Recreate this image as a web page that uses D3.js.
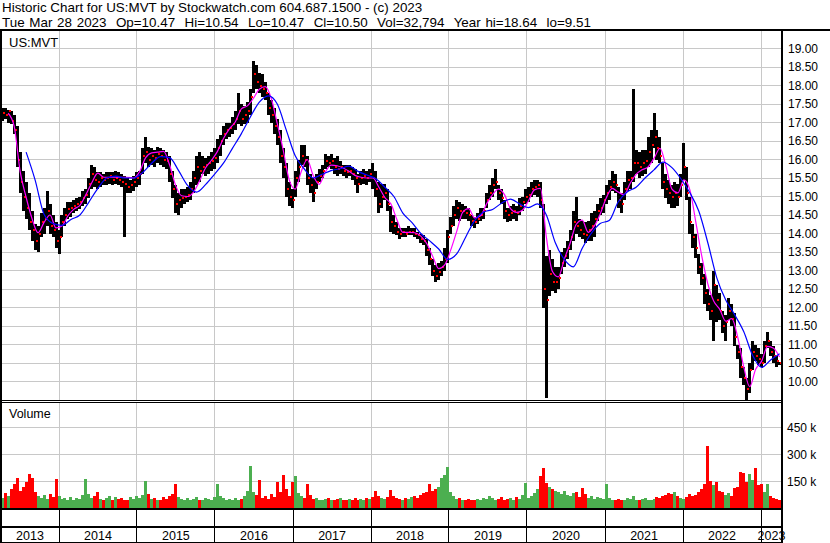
<!DOCTYPE html>
<html><head><meta charset="utf-8">
<script src="https://cdn.jsdelivr.net/npm/d3@7"></script>
<style>
html,body{margin:0;padding:0;background:#fff;}
svg{display:block;font-family:"Liberation Sans",Arial,sans-serif;}
text{white-space:pre;}
</style></head><body>
<svg id="c" width="830" height="543"></svg>
<script>
// ---------------- data ----------------
const title1 = "Historic Chart for US:MVT by Stockwatch.com 604.687.1500 - (c) 2023";
const title2 = "Tue Mar 28 2023  Op=10.47  Hi=10.54  Lo=10.47  Cl=10.50  Vol=32,794  Year hi=18.64  lo=9.51";
const symbolLabel = "US:MVT";
const volumeLabel = "Volume";
const years = [2013,2014,2015,2016,2017,2018,2019,2020,2021,2022,2023];
const priceTicks = [19.00,18.50,18.00,17.50,17.00,16.50,16.00,15.50,15.00,14.50,14.00,13.50,13.00,12.50,12.00,11.50,11.00,10.50,10.00];
const volumeTicks = [150,300,450];           // thousands
const volumeTickLabels = ["150 k","300 k","450 k"];
const firstBarDate = "2013-04-10";
const barStepDays = 14;                       // one bar per two weeks

const highs = [
17.40,17.38,17.35,17.30,17.20,16.90,16.20,15.70,15.40,15.10,
14.60,14.25,14.20,14.55,14.70,15.15,14.80,14.50,14.30,14.10,
14.50,14.70,14.85,14.85,14.90,14.95,15.00,15.15,15.20,15.50,
15.85,15.80,15.65,15.65,15.60,15.65,15.65,15.65,15.70,15.65,
15.60,15.55,15.50,15.45,15.55,15.65,15.70,16.30,16.60,16.35,
16.30,16.25,16.35,16.30,16.25,16.20,16.10,15.70,15.30,15.10,
15.20,15.20,15.25,15.40,15.70,16.10,16.20,16.10,16.05,16.10,
16.20,16.30,16.55,16.65,16.90,17.00,17.00,17.15,17.30,17.80,
17.50,17.45,17.55,17.90,18.66,18.55,18.35,18.30,18.10,17.80,
17.60,17.40,17.10,16.80,16.30,15.90,15.40,15.20,15.70,16.00,
16.40,16.40,16.10,15.60,15.50,15.60,15.75,15.85,16.15,16.10,
16.15,16.05,16.10,15.95,15.85,15.85,15.85,15.80,15.75,15.60,
15.70,15.75,15.70,15.75,15.90,15.70,15.40,15.35,15.35,15.20,
14.75,14.50,14.30,14.15,14.15,14.15,14.20,14.15,14.15,14.05,
14.00,13.95,13.85,13.60,13.30,13.15,13.20,13.25,13.60,14.10,
14.45,14.75,14.90,14.85,14.80,14.75,14.70,14.50,14.45,14.55,
14.70,14.70,15.10,15.30,15.50,15.75,15.30,15.20,14.90,14.70,
14.75,14.80,14.75,14.95,15.00,15.20,15.25,15.40,15.45,15.45,
15.40,14.80,13.40,13.55,13.30,13.10,13.10,13.50,13.60,13.80,
14.10,14.60,15.00,14.40,14.35,14.30,14.35,14.55,14.60,14.80,
14.95,15.05,15.30,15.45,15.70,15.60,15.25,15.10,15.40,15.70,
15.70,17.90,16.25,16.20,16.25,16.25,16.60,16.80,17.25,16.80,
16.60,15.90,15.60,15.45,15.30,15.40,15.35,15.60,16.45,15.80,
15.00,14.25,14.00,13.45,13.20,12.90,12.50,12.35,13.00,12.60,
12.40,11.90,11.80,12.25,12.10,11.85,11.00,10.90,10.40,10.10,
10.50,11.10,11.00,10.90,10.75,11.10,11.35,11.10,10.95,10.70,
10.54];

const lows = [
17.05,17.10,17.00,16.95,16.70,15.80,15.10,14.60,14.40,14.10,
13.80,13.55,13.50,13.90,14.00,14.20,14.00,13.90,13.60,13.45,
13.90,14.20,14.40,14.45,14.55,14.60,14.65,14.75,14.80,14.95,
15.20,15.25,15.20,15.25,15.30,15.30,15.35,15.30,15.35,15.30,
15.25,13.90,15.10,15.10,15.15,15.25,15.30,15.60,15.90,15.80,
15.85,15.80,15.90,15.85,15.80,15.75,15.40,14.95,14.55,14.50,
14.70,14.80,14.85,14.90,15.10,15.30,15.40,15.60,15.55,15.60,
15.70,15.75,15.90,16.10,16.40,16.55,16.60,16.70,16.80,16.95,
16.90,16.95,17.00,17.20,17.80,17.90,17.80,17.70,17.60,17.20,
17.00,16.70,16.40,15.90,15.50,15.00,14.75,14.70,15.00,15.40,
15.85,15.80,15.30,15.10,14.85,15.20,15.40,15.50,15.75,15.80,
15.75,15.60,15.55,15.60,15.55,15.50,15.55,15.45,15.30,15.10,
15.30,15.35,15.30,15.40,15.20,15.00,14.55,14.70,14.90,14.60,
14.05,14.00,13.95,13.85,13.90,13.90,13.95,13.95,13.90,13.85,
13.75,13.70,13.40,13.15,12.85,12.70,12.75,12.85,13.00,13.20,
14.00,14.20,14.40,14.35,14.40,14.40,14.35,14.20,14.15,14.25,
14.35,14.40,14.70,14.90,15.00,15.20,14.90,14.80,14.40,14.30,
14.35,14.40,14.35,14.50,14.60,14.80,14.85,15.00,15.05,15.00,
14.70,12.00,9.55,12.30,12.45,12.40,12.50,12.90,13.10,13.30,
13.55,13.80,14.00,13.90,13.85,13.75,13.80,13.80,13.90,14.35,
14.50,14.55,14.80,14.90,15.15,15.10,14.70,14.55,14.90,15.15,
15.20,15.40,15.60,15.50,15.55,15.60,15.80,15.90,16.30,16.00,
15.90,15.20,14.95,14.80,14.70,14.70,14.75,15.00,15.45,14.90,
14.00,13.60,13.35,12.90,12.60,12.10,11.90,11.65,11.10,11.60,
11.65,11.30,11.10,11.65,11.50,10.95,10.60,10.10,9.90,9.51,
9.70,10.30,10.55,10.45,10.40,10.50,10.90,10.70,10.50,10.40,
10.45];

const closes = [
17.25,17.20,17.30,17.05,16.80,16.00,15.40,15.00,14.70,14.30,
14.10,13.80,14.00,14.30,14.40,14.60,14.20,14.10,13.80,13.90,
14.30,14.50,14.65,14.70,14.75,14.80,14.85,14.95,15.05,15.35,
15.60,15.45,15.40,15.50,15.45,15.50,15.55,15.45,15.50,15.45,
15.40,15.35,15.25,15.30,15.40,15.50,15.60,16.10,16.20,16.00,
16.10,16.05,16.15,16.10,16.00,15.95,15.60,15.20,14.80,14.90,
14.95,15.00,15.05,15.20,15.50,15.80,15.70,15.80,15.85,15.90,
15.95,16.05,16.30,16.50,16.70,16.80,16.85,16.95,17.10,17.30,
17.10,17.20,17.30,17.70,18.30,18.10,18.00,17.90,17.80,17.40,
17.20,16.90,16.60,16.10,15.80,15.20,15.00,14.90,15.50,15.80,
16.10,16.00,15.50,15.30,15.10,15.40,15.55,15.70,15.95,15.90,
15.95,15.80,15.75,15.80,15.70,15.65,15.70,15.60,15.50,15.35,
15.50,15.55,15.50,15.60,15.50,15.20,14.80,15.00,15.10,14.80,
14.30,14.20,14.05,14.00,14.05,14.00,14.05,14.05,14.00,13.95,
13.85,13.80,13.55,13.30,13.00,12.85,12.95,13.10,13.30,13.90,
14.20,14.50,14.70,14.60,14.60,14.55,14.50,14.35,14.30,14.40,
14.50,14.60,14.90,15.10,15.30,15.40,15.10,14.95,14.60,14.50,
14.55,14.60,14.55,14.75,14.85,15.00,15.05,15.20,15.25,15.30,
14.90,12.50,12.20,12.90,12.70,12.70,12.80,13.20,13.40,13.60,
13.90,14.30,14.20,14.10,14.00,13.95,14.10,14.20,14.40,14.60,
14.70,14.90,15.10,15.25,15.40,15.30,14.90,14.80,15.20,15.45,
15.50,15.90,15.90,15.80,15.90,15.95,16.20,16.40,16.60,16.30,
16.10,15.40,15.20,15.10,15.00,15.10,15.00,15.30,15.80,15.10,
14.30,13.90,13.60,13.10,12.80,12.40,12.10,11.90,12.60,12.20,
11.90,11.50,11.60,11.90,11.70,11.20,10.80,10.40,10.10,9.80,
10.30,10.80,10.70,10.60,10.50,10.95,11.10,10.80,10.70,10.55,
10.50];

const volumes = [   // thousands of shares
60,85,70,110,138,169,95,120,150,191,
169,90,70,60,75,55,80,65,163,70,
55,60,45,65,50,60,55,75,163,80,
60,70,90,55,45,60,70,50,65,55,
60,45,50,65,55,70,60,75,152,80,
55,60,45,50,65,55,70,80,135,65,
55,50,60,45,55,65,50,45,60,55,
50,65,135,70,60,50,55,45,60,50,
55,70,95,236,90,75,158,60,70,55,
80,65,146,90,186,110,70,146,180,85,
70,60,135,75,55,60,50,45,55,60,
50,45,55,60,50,45,55,50,60,45,
55,50,60,55,65,100,70,60,55,65,
106,70,60,55,50,60,55,65,70,60,
75,85,90,135,95,110,120,169,186,230,
90,70,55,60,50,45,55,50,45,55,
50,60,55,70,60,50,55,65,45,55,
60,50,65,55,75,140,60,70,85,110,
180,225,140,120,110,95,90,80,100,75,
70,85,90,65,117,80,60,70,55,65,
60,55,135,60,50,45,55,50,45,60,
55,70,50,45,55,60,50,45,55,65,
60,70,75,85,80,90,70,60,55,65,
80,70,75,90,110,135,349,155,130,146,
100,90,75,85,70,113,120,203,197,150,
192,160,225,130,135,90,135,70,60,55,
45];

// short moving average (magenta), one value every 2 bars starting at bar 2
const maFast = [
17.25,16.90,15.68,14.98,14.40,14.02,14.30,14.50,14.15,14.20,
14.48,14.66,14.76,15.05,15.38,15.63,15.52,15.52,15.52,15.52,
15.52,15.50,15.68,16.05,16.18,16.20,16.22,15.85,15.30,15.02,
15.00,15.12,15.42,15.77,15.98,16.22,16.57,16.83,17.02,17.37,
17.45,17.65,17.90,17.97,17.65,16.97,16.25,15.45,15.20,15.67,
16.00,15.57,15.33,15.65,15.85,15.83,15.77,15.68,15.57,15.52,
15.50,15.50,15.25,14.97,14.80,14.38,14.03,14.03,14.02,13.93,
13.73,13.38,13.05,13.15,13.55,14.05,14.57,14.67,14.42,14.48,
14.80,15.05,15.20,15.05,14.67,14.57,14.63,14.88,15.18,15.22,
13.90,12.98,12.83,13.30,13.75,14.25,14.36,14.03,14.20,14.53,
14.95,15.22,15.12,15.05,15.35,15.60,15.72,15.80,16.03,16.30,
15.82,15.20,15.10,15.45,15.18,14.30,13.38,12.64,12.17,11.95,
11.63,11.70,11.20,10.40,9.86,10.33,10.55,10.95,10.90,10.66];
const maFastFirstBar = 2, maFastEveryBars = 2;

// long moving average (blue), one value every 3 bars starting at bar 8
const maSlow = [
16.20,15.45,14.52,14.27,14.22,14.38,14.50,14.85,15.22,15.50,
15.55,15.50,15.50,15.65,15.90,16.08,16.05,15.70,15.30,15.12,
15.32,15.60,15.90,16.30,16.70,17.15,17.55,17.72,17.50,16.80,
16.10,15.75,15.50,15.60,15.70,15.75,15.82,15.68,15.58,15.48,
15.25,15.00,14.55,14.30,14.00,13.80,13.58,13.30,13.45,13.90,
14.35,14.58,14.65,14.82,14.93,14.80,14.70,14.80,14.50,13.75,
13.30,13.10,13.60,14.00,14.27,14.35,14.85,15.12,15.25,15.50,
15.72,15.93,15.78,15.48,15.10,14.60,13.75,12.80,12.20,11.80,
11.35,10.70,10.38,10.58,10.75];
const maSlowFirstBar = 8, maSlowEveryBars = 3;

// ---------------- layout ----------------
const W = 830, H = 543;
const L = 1, R = 782;
const priceTop = 30, priceBottom = 400;
const volTop = 402, volBottom = 508.5;
const axisRowTop = 509;

const parse = d3.timeParse("%Y-%m-%d");
const start = parse(firstBarDate);
const barDate = i => d3.timeDay.offset(start, barStepDays * i);

const bars = highs.map((h, i) => ({
  date: barDate(i), high: h, low: lows[i], close: closes[i], vol: volumes[i],
  up: i === 0 ? true : closes[i] >= closes[i - 1]
}));
const fastPts = maFast.map((v, k) => ({date: barDate(maFastFirstBar + maFastEveryBars * k), v}));
const slowPts = maSlow.map((v, k) => ({date: barDate(maSlowFirstBar + maSlowEveryBars * k), v}));

const x = d3.scaleTime().domain([new Date(2014, 0, 1), new Date(2023, 0, 1)]).range([59, 761]);
const yP = d3.scaleLinear().domain([9.5, 19.5]).range([priceBottom, priceTop]);
const yV = d3.scaleLinear().domain([0, 595]).range([volBottom, volTop]);

const svg = d3.select("#c");
svg.append("rect").attr("width", W).attr("height", H).attr("fill", "#fff");

const grid = svg.append("g").attr("stroke", "#c8c8c8").attr("stroke-width", 1).attr("shape-rendering", "crispEdges");
const yearStarts = years.slice(1).map(y => new Date(y, 0, 1));

// price gridlines
grid.append("g").selectAll("line").data(priceTicks).join("line")
  .attr("x1", L).attr("x2", R).attr("y1", d => yP(d)).attr("y2", d => yP(d));
grid.append("g").selectAll("line").data(yearStarts).join("line")
  .attr("x1", d => x(d)).attr("x2", d => x(d)).attr("y1", priceTop).attr("y2", priceBottom);
// volume gridlines
grid.append("g").selectAll("line").data(volumeTicks).join("line")
  .attr("x1", L).attr("x2", R).attr("y1", d => yV(d)).attr("y2", d => yV(d));
grid.append("g").selectAll("line").data(yearStarts).join("line")
  .attr("x1", d => x(d)).attr("x2", d => x(d)).attr("y1", volTop).attr("y2", volBottom);

// labels inside panels
svg.append("text").attr("x", 9).attr("y", 46.5).attr("font-size", 13).attr("fill", "#000").text(symbolLabel);
svg.append("text").attr("x", 9).attr("y", 418).attr("font-size", 12.5).attr("fill", "#000").text(volumeLabel);

// volume bars
const bw = 3;
svg.append("g").attr("shape-rendering", "crispEdges")
  .selectAll("rect").data(bars).join("rect")
  .attr("x", d => x(d.date) - bw / 2).attr("width", bw)
  .attr("y", d => yV(d.vol)).attr("height", d => volBottom - yV(d.vol))
  .attr("fill", d => d.up ? "#4caf50" : "#ff0000");

// price bars (high-low) with red close marks
const pg = svg.append("g").attr("shape-rendering", "crispEdges");
pg.append("g").selectAll("rect").data(bars).join("rect")
  .attr("x", d => x(d.date) - bw / 2).attr("width", bw)
  .attr("y", d => yP(d.high)).attr("height", d => Math.max(1, yP(d.low) - yP(d.high)))
  .attr("fill", "#000");
pg.append("g").selectAll("rect").data(bars).join("rect")
  .attr("x", d => x(d.date) + 0.5).attr("width", 2)
  .attr("y", d => yP(d.close) - 1).attr("height", 2)
  .attr("fill", "#ff0000");

// moving averages
const line = d3.line().x(d => x(d.date)).y(d => yP(d.v)).curve(d3.curveMonotoneX);
svg.append("path").datum(fastPts).attr("d", line).attr("fill", "none")
  .attr("stroke", "#ff00ff").attr("stroke-width", 1.2);
svg.append("path").datum(slowPts).attr("d", line).attr("fill", "none")
  .attr("stroke", "#0000ff").attr("stroke-width", 1.2);

// right axis labels
svg.append("g").selectAll("text").data(priceTicks).join("text")
  .attr("x", 788).attr("y", d => yP(d)).attr("dy", "0.36em")
  .attr("font-size", 12).attr("fill", "#000").text(d => d.toFixed(2));
svg.append("g").selectAll("text").data(volumeTicks).join("text")
  .attr("x", 787).attr("y", d => yV(d)).attr("dy", "0.36em")
  .attr("font-size", 12).attr("fill", "#000").text((d, i) => volumeTickLabels[i]);

// bottom date axis rows
const cells = years.map(y => {
  const a = Math.max(L, x(new Date(y, 0, 1)));
  const b = Math.min(R, x(new Date(y + 1, 0, 1)));
  return {y, mid: (a + b) / 2};
});
svg.append("g").selectAll("text").data(cells).join("text")
  .attr("x", d => d.mid).attr("y", 539.5).attr("text-anchor", "middle")
  .attr("font-size", 12.5).attr("fill", "#000").text(d => d.y);

const frame = svg.append("g").attr("stroke", "#000").attr("shape-rendering", "crispEdges");
frame.append("g").selectAll("line").data(yearStarts).join("line")
  .attr("x1", d => x(d)).attr("x2", d => x(d)).attr("y1", axisRowTop).attr("y2", H)
  .attr("stroke-width", 1);
[[0, W, 30, 2], [L, R, 400, 1], [L, R, 402, 1], [L, R, 509, 2], [L, R, 527, 2], [L, R, 542, 1]]
  .forEach(([a, b, yy, w]) => frame.append("line").attr("x1", a).attr("x2", b).attr("y1", yy).attr("y2", yy).attr("stroke-width", w));
frame.append("line").attr("x1", R).attr("x2", R).attr("y1", 30).attr("y2", H).attr("stroke-width", 2);
frame.append("line").attr("x1", 1).attr("x2", 1).attr("y1", 30).attr("y2", H).attr("stroke-width", 2);

// header
svg.append("text").attr("x", 2).attr("y", 12).attr("font-size", 13.4).attr("fill", "#000").text(title1);
svg.append("text").attr("x", 2).attr("y", 27).attr("font-size", 13.4).attr("word-spacing", 1).attr("fill", "#000").text(title2);
</script>
</body></html>
